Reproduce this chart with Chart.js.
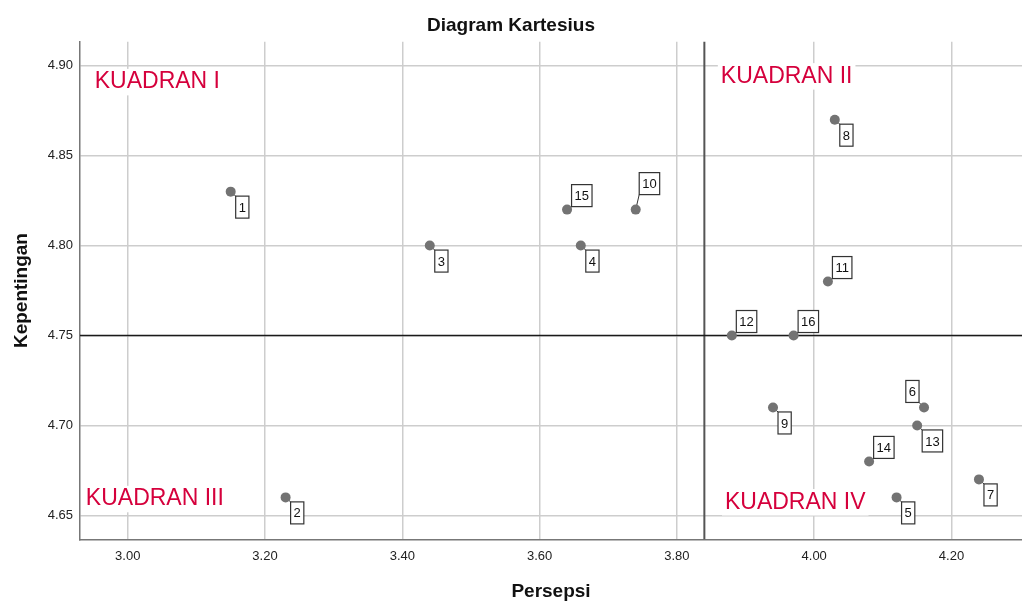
<!DOCTYPE html>
<html lang="id">
<head>
  <meta charset="UTF-8">
  <title>Diagram Kartesius</title>
  <script src="https://cdn.jsdelivr.net/npm/chart.js"></script>
  <style>
    html, body {
      margin: 0;
      padding: 0;
      background: #ffffff;
    }

    .grafico-container {
      width: 1022px;
      height: 601px;
    }
  </style>
</head>
<body>

  <div class="grafico-container">
    <canvas id="diagram"></canvas>
  </div>

  <script>
    // nomor atribut dan nilai rata-rata
    const atribut = [1, 2, 3, 4, 5, 6, 7, 8, 9, 10, 11, 12, 13, 14, 15, 16];
    const persepsi = [3.15, 3.23, 3.44, 3.66, 4.12, 4.16, 4.24, 4.03, 3.94, 3.74, 4.02, 3.88, 4.15, 4.08, 3.64, 3.97];
    const kepentingan = [4.83, 4.66, 4.80, 4.80, 4.66, 4.71, 4.67, 4.87, 4.71, 4.82, 4.78, 4.75, 4.70, 4.68, 4.82, 4.75];

    // garis rata-rata (pembagi kuadran)
    const rataPersepsi = 3.84;
    const rataKepentingan = 4.75;

    const ticksX = [3.00, 3.20, 3.40, 3.60, 3.80, 4.00, 4.20];
    const ticksY = [4.65, 4.70, 4.75, 4.80, 4.85, 4.90];

    const namaKuadran = ['KUADRAN I', 'KUADRAN II', 'KUADRAN III', 'KUADRAN IV'];
    // posisi teks kuadran dalam satuan sumbu
    const kuadranX = [2.952, 3.864, 2.939, 3.870];
    const kuadranY = [4.8874, 4.8906, 4.6556, 4.6538];

    // letak kotak label terhadap titik: br = kanan bawah, tr = kanan atas, tl = kiri atas
    const letakLabel = ['br', 'br', 'br', 'br', 'br', 'tl', 'br', 'br', 'br', 'tr2', 'tr', 'tr', 'br', 'tr', 'tr', 'tr'];

    const FONT = '"Liberation Sans", Arial, sans-serif';
    Chart.defaults.font.family = FONT;

    function kotakLabel(px, py, letak, w, h) {
      if (letak === 'br') return { left: px + 5, top: py + 4.5, cx: px + 5, cy: py + 4.5 };
      if (letak === 'tr') return { left: px + 4.5, top: py - 3 - h, cx: px + 4.5, cy: py - 3 };
      if (letak === 'tr2') return { left: px + 3.5, top: py - 15 - h, cx: px + 3.5, cy: py - 15 };
      return { left: px - 5 - w, top: py - 5 - h, cx: px - 5, cy: py - 5 };
    }

    const anotasi = {
      id: 'anotasi',
      beforeDatasetsDraw(chart) {
        const { ctx, chartArea: a, scales: { x, y } } = chart;
        ctx.save();

        // garis pembagi
        const gx = x.getPixelForValue(rataPersepsi);
        ctx.strokeStyle = '#555555';
        ctx.lineWidth = 2;
        ctx.beginPath();
        ctx.moveTo(gx, a.top);
        ctx.lineTo(gx, a.bottom);
        ctx.stroke();

        const gy = y.getPixelForValue(rataKepentingan);
        ctx.strokeStyle = '#1a1a1a';
        ctx.lineWidth = 1.5;
        ctx.beginPath();
        ctx.moveTo(a.left, gy);
        ctx.lineTo(a.right, gy);
        ctx.stroke();

        // teks kuadran
        ctx.font = '23px ' + FONT;
        ctx.textBaseline = 'alphabetic';
        ctx.textAlign = 'left';
        namaKuadran.forEach((nama, i) => {
          const tx = x.getPixelForValue(kuadranX[i]);
          const ty = y.getPixelForValue(kuadranY[i]);
          const w = ctx.measureText(nama).width;
          ctx.fillStyle = '#ffffff';
          ctx.fillRect(tx - 3, ty - 19.5, w + 6, 26.5);
          ctx.fillStyle = '#d5003c';
          ctx.fillText(nama, tx, ty);
        });

        // garis penghubung label
        ctx.font = '13px ' + FONT;
        ctx.strokeStyle = '#333333';
        ctx.lineWidth = 1;
        atribut.forEach((n, i) => {
          const px = x.getPixelForValue(persepsi[i]);
          const py = y.getPixelForValue(kepentingan[i]);
          const w = ctx.measureText(String(n)).width + 6;
          const k = kotakLabel(px, py, letakLabel[i], w, 22);
          ctx.beginPath();
          ctx.moveTo(px, py);
          ctx.lineTo(k.cx, k.cy);
          ctx.stroke();
        });
        ctx.restore();
      },
      afterDatasetsDraw(chart) {
        const { ctx, scales: { x, y } } = chart;
        ctx.save();
        ctx.font = '13px ' + FONT;
        ctx.textAlign = 'center';
        ctx.textBaseline = 'middle';
        atribut.forEach((n, i) => {
          const px = x.getPixelForValue(persepsi[i]);
          const py = y.getPixelForValue(kepentingan[i]);
          const teks = String(n);
          const w = ctx.measureText(teks).width + 6;
          const h = 22;
          const k = kotakLabel(px, py, letakLabel[i], w, h);
          ctx.fillStyle = '#ffffff';
          ctx.fillRect(k.left, k.top, w, h);
          ctx.strokeStyle = '#333333';
          ctx.lineWidth = 1.2;
          ctx.strokeRect(k.left, k.top, w, h);
          ctx.fillStyle = '#111111';
          ctx.fillText(teks, k.left + w / 2, k.top + h / 2 + 1);
        });
        ctx.restore();
      }
    };

    const ctx = document.getElementById('diagram').getContext('2d');
    const chart = new Chart(ctx, {
      type: 'scatter',
      data: {
        datasets: [{
          label: 'Atribut',
          data: persepsi.map((v, i) => ({ x: v, y: kepentingan[i] })),
          backgroundColor: '#737373',
          borderWidth: 0,
          pointRadius: 5,
          pointHoverRadius: 5
        }]
      },
      options: {
        responsive: true,
        maintainAspectRatio: false,
        animation: false,
        layout: { padding: 0, autoPadding: false },
        plugins: {
          legend: { display: false },
          tooltip: { enabled: false },
          title: {
            display: true,
            text: 'Diagram Kartesius',
            color: '#111111',
            font: { size: 19, weight: 'bold' },
            padding: { top: 14, bottom: 5 }
          }
        },
        scales: {
          x: {
            type: 'linear',
            min: 2.9305,
            max: 4.3027,
            afterBuildTicks: s => { s.ticks = ticksX.map(v => ({ value: v })); },
            afterFit: s => { s.height = 61.7; s.paddingLeft = 0; s.paddingRight = 0; },
            ticks: {
              autoSkip: false,
              maxRotation: 0,
              padding: 9,
              color: '#222222',
              font: { size: 13 },
              callback: v => Number(v).toFixed(2)
            },
            grid: { color: '#cdcdcd', lineWidth: 1.5, drawTicks: false },
            border: { color: '#777777', width: 1.5 },
            title: {
              display: true,
              text: 'Persepsi',
              color: '#111111',
              font: { size: 19, weight: 'bold' },
              padding: { top: 0, bottom: -2 }
            }
          },
          y: {
            type: 'linear',
            min: 4.6367,
            max: 4.9133,
            afterBuildTicks: s => { s.ticks = ticksY.map(v => ({ value: v })); },
            afterFit: s => { s.width = 80; s.paddingTop = 0; s.paddingBottom = 0; },
            ticks: {
              autoSkip: false,
              padding: 7,
              color: '#222222',
              font: { size: 13 },
              callback: v => Number(v).toFixed(2)
            },
            grid: { color: '#cdcdcd', lineWidth: 1.5, drawTicks: false },
            border: { color: '#777777', width: 1.5 },
            title: {
              display: true,
              text: 'Kepentingan',
              color: '#111111',
              font: { size: 19, weight: 'bold' },
              padding: { top: 10, bottom: 0 }
            }
          }
        }
      },
      plugins: [anotasi]
    });
  </script>

</body>
</html>
